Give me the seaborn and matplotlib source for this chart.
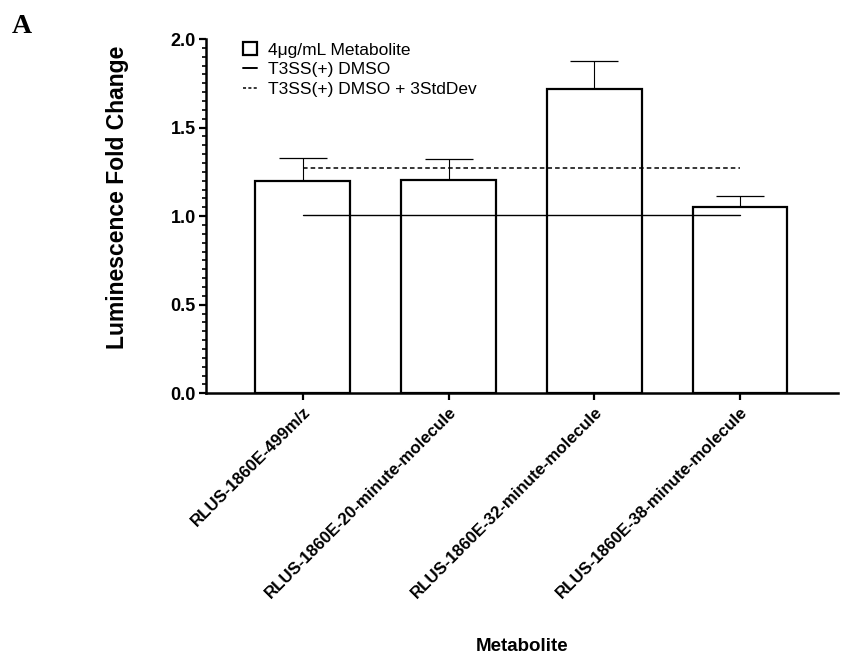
"""Luminescence fold change per metabolite, bar chart with DMSO reference lines."""

import matplotlib

matplotlib.use("Agg")

import matplotlib.pyplot as plt
import seaborn as sns
from matplotlib.lines import Line2D
from matplotlib.patches import Patch
from matplotlib.ticker import FormatStrFormatter, MultipleLocator

metabolites = [
    "RLUS-1860E-499m/z",
    "RLUS-1860E-20-minute-molecule",
    "RLUS-1860E-32-minute-molecule",
    "RLUS-1860E-38-minute-molecule",
]
fold_change = [1.20, 1.205, 1.72, 1.05]
fold_change_err = [0.13, 0.12, 0.155, 0.065]
dmso_mean = 1.005
dmso_3sd = 1.27

legend_labels = ["4\u03bcg/mL Metabolite", "T3SS(+) DMSO", "T3SS(+) DMSO + 3StdDev"]


def set_theme() -> None:
    sns.set_theme(style="ticks")
    plt.rcParams["font.family"] = ["Liberation Sans", "DejaVu Sans"]
    plt.rcParams["axes.linewidth"] = 1.8
    for key in ["text.color", "axes.labelcolor", "xtick.color", "ytick.color", "axes.edgecolor"]:
        plt.rcParams[key] = "black"


def main() -> None:
    set_theme()
    fig = plt.figure(figsize=(8.52, 6.58), dpi=100)
    ax = fig.add_axes([0.2414, 0.4023, 0.7418, 0.5384])

    sns.barplot(
        x=metabolites,
        y=fold_change,
        color="white",
        saturation=1,
        edgecolor="black",
        linewidth=1.6,
        width=0.65,
        ax=ax,
        zorder=1,
    )

    xpos = list(range(len(metabolites)))
    ax.errorbar(
        xpos,
        fold_change,
        yerr=[[0] * len(fold_change), fold_change_err],
        fmt="none",
        ecolor="black",
        elinewidth=0.8,
        capsize=17,
        capthick=0.9,
        zorder=0.5,
    )

    ax.plot(xpos, [dmso_mean] * len(xpos), color="black", linewidth=1.0, zorder=3)
    ax.plot(
        xpos,
        [dmso_3sd] * len(xpos),
        color="black",
        linewidth=1.1,
        linestyle=(0, (3, 2)),
        zorder=3,
    )

    ax.set_xlim(-0.666, 3.67)
    ax.set_ylim(0, 2.0)
    ax.yaxis.set_major_locator(MultipleLocator(0.5))
    ax.yaxis.set_minor_locator(MultipleLocator(0.05))
    ax.yaxis.set_major_formatter(FormatStrFormatter("%.1f"))
    sns.despine(ax=ax)

    ax.tick_params(axis="y", which="major", length=5, width=1.6, labelsize=13, pad=2)
    ax.tick_params(axis="y", which="minor", length=3, width=1.2)
    ax.tick_params(axis="x", which="major", length=5, width=1.6, labelsize=12.2, pad=3)
    for lab in ax.get_yticklabels():
        lab.set_fontweight("bold")
    ax.set_xticks(xpos)
    ax.set_xticklabels(
        metabolites, rotation=45, ha="right", rotation_mode="anchor", fontweight="bold"
    )

    ax.set_ylabel("Luminescence Fold Change", fontsize=16.5, fontweight="bold")
    ax.yaxis.set_label_coords(-0.122, 0.553)
    ax.set_xlabel("Metabolite", fontsize=13.5, fontweight="bold")
    ax.xaxis.set_label_coords(0.5, -0.69)

    handles = [
        Patch(facecolor="white", edgecolor="black", linewidth=1.6),
        Line2D([0], [0], color="black", linewidth=1.4),
        Line2D([0], [0], color="black", linewidth=1.1, linestyle=(0, (2, 1.5))),
    ]
    ax.legend(
        handles,
        legend_labels,
        loc="upper left",
        bbox_to_anchor=(0.035, 1.035),
        frameon=False,
        fontsize=12.5,
        handlelength=0.8,
        handleheight=0.75,
        handletextpad=0.6,
        labelspacing=0.25,
    )

    fig.text(
        0.014, 0.96, "A", fontsize=20, fontweight="bold",
        family=["Liberation Serif", "DejaVu Serif"], va="center",
    )

    fig.savefig("out.png", dpi=100)
    plt.close(fig)


if __name__ == "__main__":
    main()
